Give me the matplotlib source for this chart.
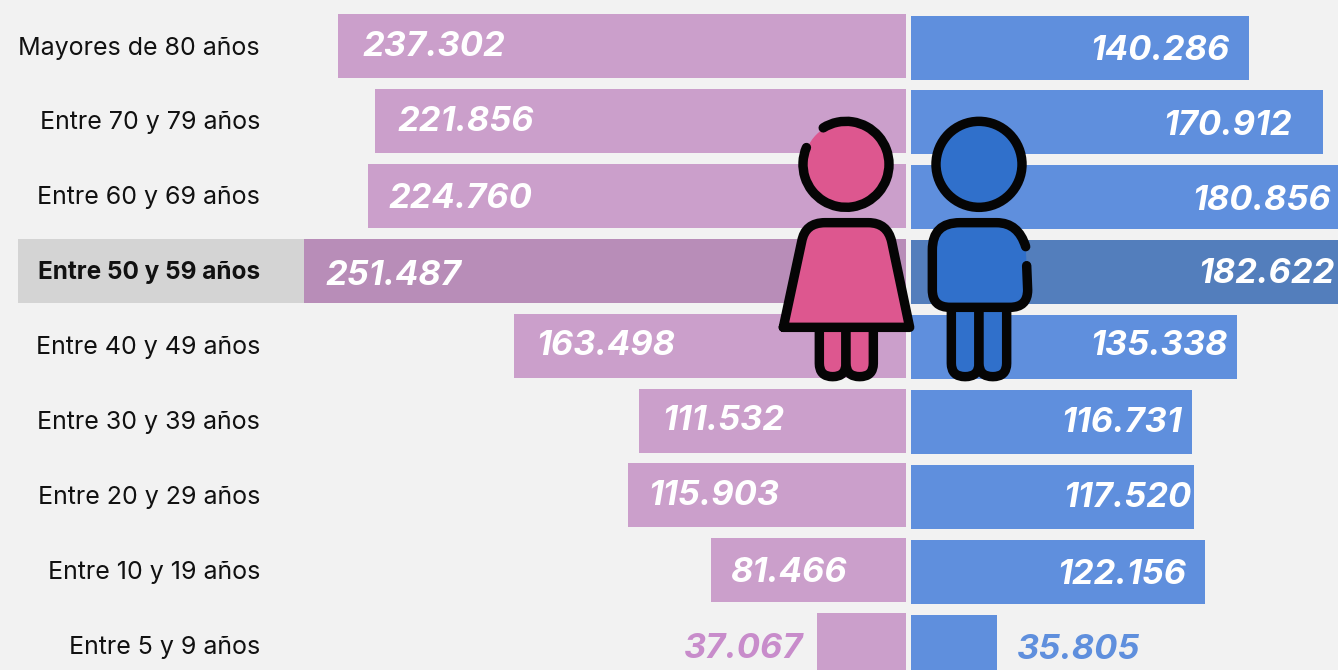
import matplotlib
matplotlib.use("Agg")
import matplotlib.pyplot as plt
from matplotlib.patches import PathPatch, Circle, Arc
from matplotlib.path import Path

age_groups = ["Mayores de 80 años", "Entre 70 y 79 años", "Entre 60 y 69 años",
              "Entre 50 y 59 años", "Entre 40 y 49 años", "Entre 30 y 39 años",
              "Entre 20 y 29 años", "Entre 10 y 19 años", "Entre 5 y 9 años"]
women = [237302, 221856, 224760, 251487, 163498, 111532, 115903, 81466, 37067]
men = [140286, 170912, 180856, 182622, 135338, 116731, 117520, 122156, 35805]
highlight = 3

W, H = 1338, 670
PX_W = 0.002395  # pixels per person
PX_M = 0.00241
ROW = 74.9
Y0 = 46.0
BG = "#f2f2f2"
PINK, PINK_DK, PINK_TXT = "#cb9fcb", "#b88db8", "#c88ccb"
BLUE, BLUE_DK = "#5f8fdd", "#537ebc"
INK = "#050505"

# hand placement of the value labels, in pixels from the default spot
w_dx = [3, 1, -1, 0, 0, 1, -2, -2]
m_dx = [-19, -31, -16, -16, -9, -10, -3, -19]
w_dy = [-2, -2, 0, 2, -3, -3, -3, -1]
m_dy = [-0.5, 0.5, 0, -2, -5, -3, -2.5, -0.5]

fig = plt.figure(figsize=(W / 100, H / 100), dpi=100, facecolor=BG)


def make_axes(x0, x1, dy, px, reverse):
    ax = fig.add_axes([x0 / W, 0, (x1 - x0) / W, 1])
    ax.patch.set_alpha(0)
    span = (x1 - x0) / px
    ax.set_xlim((span, 0) if reverse else (0, span))
    ax.set_ylim((H - Y0 - dy) / ROW, -(Y0 + dy) / ROW)
    ax.axis("off")
    return ax


ax_w = make_axes(0, 906, 0, PX_W, True)
ax_m = make_axes(911, W, 1.5, PX_M, False)

rows = range(len(age_groups))
ax_w.barh(highlight, (906 - 18) / PX_W, height=64 / ROW, color="#d4d4d4", zorder=1)
ax_w.barh(rows, women, height=64 / ROW, zorder=2,
          color=[PINK_DK if i == highlight else PINK for i in rows])
ax_m.barh(rows, men, height=64 / ROW, zorder=2,
          color=[BLUE_DK if i == highlight else BLUE for i in rows])

val_font = dict(family="Inter", weight="bold", style="italic", fontsize=24.8, va="center_baseline")
for i in rows:
    hl = i == highlight
    ax_w.text((906 - 260) / PX_W, i + 2 / ROW, age_groups[i], ha="right", va="center", family="Inter",
              fontsize=17.5 if hl else 18, color="#111111", weight="bold" if hl else "normal", zorder=4)
    if i < len(w_dx):
        ax_w.text(women[i] - (22 + w_dx[i]) / PX_W, i + w_dy[i] / ROW, f"{women[i]:,}".replace(",", "."),
                  ha="left", color="white", zorder=4, **val_font)
        ax_m.text(men[i] + m_dx[i] / PX_M, i + m_dy[i] / ROW, f"{men[i]:,}".replace(",", "."),
                  ha="right", color="white", zorder=4, **val_font, clip_on=False)
    else:
        ax_w.text(women[i] + 14 / PX_W, i, f"{women[i]:,}".replace(",", "."),
                  ha="right", color=PINK_TXT, zorder=4, **val_font)
        ax_m.text(men[i] + 19 / PX_M, i, f"{men[i]:,}".replace(",", "."),
                  ha="left", color=BLUE, zorder=4, **val_font)

# figures on top, drawn in zoom-crop style pixel coordinates
ico = fig.add_axes([0, 0, 1, 1])
ico.patch.set_alpha(0)
ico.set_xlim(0, W)
ico.set_ylim(H, 0)
ico.axis("off")
LW = 6.8
GIRL, BOY = "#dd578f", "#3070cb"
stroke = dict(edgecolor=INK, lw=LW, capstyle="round", joinstyle="round")


def z(x, y):
    return (760 + x / 3, 100 + y / 3)


def shape(cmds, fc, ec=True):
    verts, codes = [], []
    for c, pts in cmds:
        for k, p in enumerate(pts):
            verts.append(z(*p))
            codes.append(c if c != Path.MOVETO or k == 0 else Path.LINETO)
    kw = dict(stroke) if ec else dict(edgecolor="none", lw=0)
    ico.add_patch(PathPatch(Path(verts, codes), facecolor=fc, **kw))


M, L, C = Path.MOVETO, Path.LINETO, Path.CURVE3

# girl
ico.add_patch(Circle(z(258, 193), 42, facecolor=GIRL, edgecolor="none"))
ico.add_patch(Arc(z(258, 193), 86, 86, theta1=-122, theta2=203,
                  color=INK, lw=LW, capstyle="round"))
for x0, x1 in [(178, 258), (258, 340)]:
    shape([(M, [(x0, 680)]), (L, [(x0, 790)]), (C, [(x0, 830), ((x0 + x1) / 2, 830)]),
           (C, [(x1, 830), (x1, 790)]), (L, [(x1, 680)])], GIRL)
shape([(M, [(70, 682)]), (L, [(125, 425)]), (C, [(135, 368), (195, 368)]), (L, [(325, 368)]),
       (C, [(382, 368), (395, 425)]), (L, [(449, 682)]), (L, [(70, 682)]), (L, [(70, 682)])], GIRL)

# boy
ico.add_patch(Circle(z(657, 193), 43, facecolor=BOY, edgecolor=INK, lw=LW))
for x0, x1 in [(574, 657), (657, 740)]:
    shape([(M, [(x0, 620)]), (L, [(x0, 790)]), (C, [(x0, 830), ((x0 + x1) / 2, 830)]),
           (C, [(x1, 830), (x1, 790)]), (L, [(x1, 620)])], BOY)
body = [(M, [(800, 497)]), (L, [(803, 570)]), (C, [(803, 622), (750, 622)]), (L, [(570, 622)]),
        (C, [(517, 622), (517, 570)]), (L, [(517, 450)]), (C, [(517, 368), (600, 368)]),
        (L, [(710, 368)]), (C, [(775, 368), (797, 440)])]
shape(body + [(L, [(800, 497)])], BOY, ec=False)
shape(body, "none")

fig.savefig("out.png", dpi=100, facecolor=BG)
